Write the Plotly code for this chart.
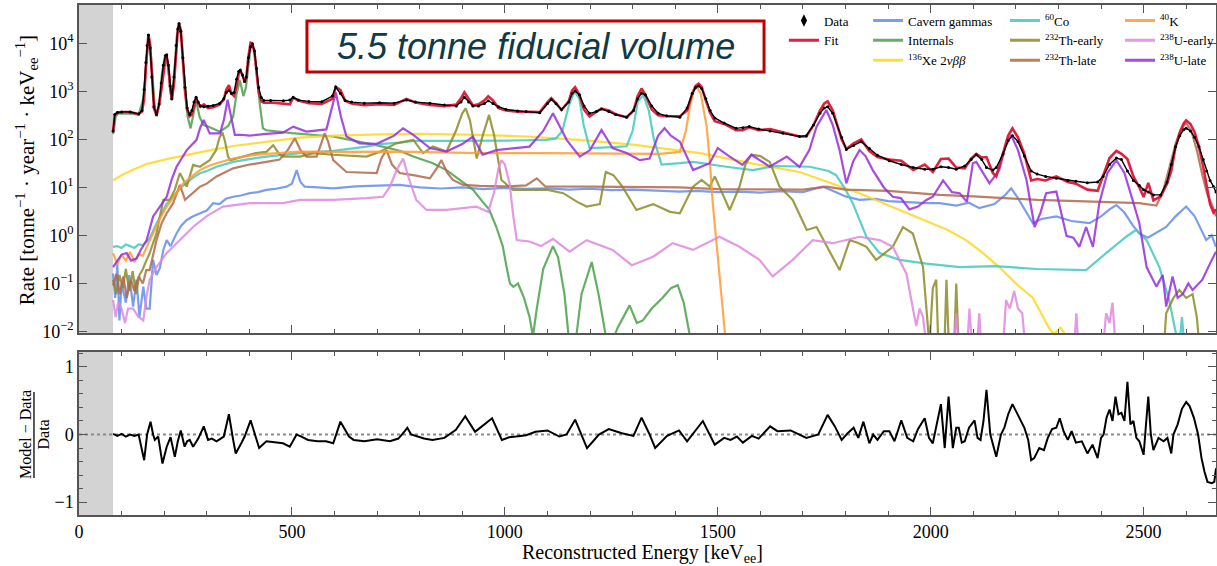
import plotly.graph_objects as go

# ---------------- spectrum: data and total fit ----------------
energy_data = [80, 84, 90, 100, 120, 140, 148, 153, 157, 160, 163, 167, 171, 176, 182, 188, 193, 198, 203, 206,
               210, 214, 218, 223, 228, 232, 235, 239, 244, 249, 254, 260, 265, 270, 275, 280, 285, 293, 303, 315,
               330, 340, 346, 352, 358, 364, 370, 375, 379, 384, 389, 393, 398, 403, 407, 412, 417, 422, 428, 434,
               450, 480, 495, 503, 515, 540, 570, 595, 603, 614, 625, 640, 670, 706, 740, 769, 790, 824, 858, 886,
               897, 905, 915, 925, 938, 952, 961, 972, 985, 1003, 1030, 1050, 1082, 1100, 1109, 1120, 1133, 1150, 1158, 1165,
               1175, 1186, 1199, 1215, 1227, 1244, 1260, 1286, 1302, 1312, 1321, 1330, 1345, 1360, 1380, 1411, 1428, 1440, 1448, 1455,
               1462, 1472, 1482, 1493, 1515, 1543, 1559, 1574, 1596, 1623, 1653, 1692, 1708, 1725, 1740, 1750, 1758, 1770, 1791, 1802,
               1819, 1837, 1856, 1875, 1903, 1931, 1959, 1986, 2005, 2024, 2042, 2060, 2080, 2095, 2107, 2120, 2131, 2146, 2154, 2170,
               2182, 2192, 2205, 2220, 2236, 2250, 2270, 2295, 2322, 2341, 2368, 2392, 2405, 2420, 2436, 2448, 2462, 2476, 2490, 2500,
               2511, 2523, 2540, 2555, 2565, 2575, 2585, 2594, 2600, 2610, 2620, 2630, 2640, 2648, 2656, 2664, 2670]
rate_data = [150, 330, 365, 375, 375, 340, 400, 1100, 4000, 9000, 1.5e4, 8000, 2000, 480, 330, 550, 1500, 3500, 5600, 5800,
             3500, 1300, 700, 2000, 9000, 2.0e4, 2.6e4, 1.8e4, 5000, 1200, 450, 330, 400, 600, 760, 600, 500, 480, 490, 510,
             560, 700, 950, 1050, 900, 950, 1800, 2600, 2800, 2200, 1600, 2000, 5000, 8500, 9800, 7000, 3000, 1200, 750, 650,
             650, 640, 660, 760, 660, 620, 610, 800, 1230, 900, 650, 600, 570, 580, 570, 660, 600, 570, 520, 500,
             600, 760, 600, 500, 500, 560, 640, 560, 480, 420, 390, 380, 360, 560, 680, 560, 420, 600, 900, 1020,
             850, 500, 350, 380, 430, 380, 330, 290, 400, 700, 920, 850, 500, 350, 310, 290, 450, 900, 1200, 1300,
             1150, 700, 400, 280, 220, 170, 175, 185, 165, 150, 135, 115, 120, 200, 350, 450, 480, 350, 110, 62,
             75, 90, 65, 47, 36, 30, 26, 24, 24, 27, 26, 24, 28, 38, 48, 38, 26, 23, 26, 50,
             95, 120, 90, 45, 22, 19, 17, 15.5, 14, 13.5, 12.5, 13, 17, 30, 41, 38, 22, 14, 11, 9,
             8, 7, 7, 13, 30, 70, 120, 160, 172, 150, 110, 70, 38, 22, 14, 10.5, 8]
rate_fit = [140, 320, 360, 372, 372, 338, 380, 700, 3200, 9500, 1.55e4, 9500, 2200, 440, 320, 520, 1000, 2300, 4800, 5400,
            3300, 1250, 680, 1400, 7500, 1.9e4, 2.6e4, 1.9e4, 4300, 1000, 410, 305, 330, 500, 720, 560, 480, 535, 450, 470,
            530, 680, 1100, 1350, 900, 800, 1300, 2300, 2700, 2200, 1550, 2000, 5500, 1.03e4, 1.0e4, 6500, 2500, 960, 620, 580,
            590, 560, 540, 740, 650, 570, 550, 700, 1250, 1070, 640, 560, 515, 540, 525, 700, 590, 525, 495, 535,
            720, 960, 690, 510, 540, 650, 790, 650, 450, 400, 380, 375, 370, 590, 720, 570, 410, 620, 1050, 1230,
            850, 420, 300, 380, 440, 400, 335, 290, 395, 800, 1150, 850, 420, 320, 305, 305, 400, 900, 1300, 1450,
            1250, 650, 360, 240, 210, 155, 155, 180, 155, 165, 140, 115, 115, 200, 400, 560, 620, 400, 100, 63,
            83, 100, 57, 43, 38, 36, 23, 30, 21, 39, 40, 26, 25, 40, 50, 42, 43, 20, 17, 53,
            120, 170, 110, 50, 14, 15, 14, 17, 13, 12, 9, 8.5, 17, 41, 58, 50, 39, 17, 10, 6.3,
            12.5, 5.4, 6.5, 12, 22, 70, 138, 215, 250, 210, 140, 70, 27, 10, 4.5, 3, 3.5]

# ---------------- fitted components ----------------
cavern_energy = [80, 85, 90, 95, 100, 110, 118, 127, 135, 142, 151, 158, 166, 174, 182, 190, 198, 206, 215, 229,
                 240, 253, 268, 284, 300, 315, 330, 345, 362, 380, 401, 420, 440, 460, 487, 500, 511, 520, 530, 560,
                 597, 650, 700, 753, 800, 850, 900, 950, 1000, 1050, 1100, 1150, 1200, 1250, 1300, 1350, 1411, 1450, 1500, 1550,
                 1600, 1650, 1700, 1730, 1747, 1770, 1800, 1833, 1870, 1900, 1950, 1990, 2021, 2060, 2090, 2114, 2150, 2175, 2189, 2205,
                 2225, 2240, 2260, 2295, 2330, 2373, 2400, 2420, 2436, 2455, 2475, 2490, 2510, 2553, 2575, 2600, 2620, 2647, 2660, 2670]
cavern_rate = [0.16, 0.05, 0.25, 0.017, 0.1, 0.04, 0.15, 0.033, 0.12, 0.02, 0.086, 0.03, 0.03, 0.31, 0.15, 0.21, 0.5, 0.8, 0.6, 1.1,
               1.6, 2.1, 2.5, 2.9, 3.3, 4.7, 4.5, 5.8, 6.4, 6.8, 7.6, 8.0, 8.9, 9.3, 10.4, 12, 23, 13, 10.4, 10,
               9.6, 10.5, 10.8, 11.3, 10, 9.5, 10, 9.2, 9.8, 9.4, 9.6, 9.0, 9.4, 8.8, 9.0, 8.5, 8.2, 8.5, 8.0, 8.2,
               7.8, 8.4, 8.0, 9.5, 10.4, 8.5, 6.5, 5.5, 5.8, 5.2, 4.9, 4.7, 4.7, 4.2, 4.8, 3.7, 4.5, 7, 9.6, 6,
               3, 1.8, 2.2, 2.5, 2.0, 1.8, 2.5, 3.5, 4.3, 3.0, 1.6, 1.1, 0.9, 1.5, 2.5, 4.0, 2.5, 0.8, 1.0, 0.58]

internals_energy = [80, 86, 92, 120, 140, 150, 155, 160, 163, 167, 172, 178, 182, 188, 195, 201, 205, 210, 215, 218,
                    224, 230, 235, 241, 248, 255, 262, 268, 275, 283, 292, 303, 331, 350, 362, 370, 378, 386, 392, 398,
                    403, 407, 412, 418, 425, 432, 440, 500, 597, 700, 753, 785, 831, 863, 910, 925, 948, 963, 980, 995,
                    1005, 1012, 1020, 1031, 1045, 1058, 1066, 1075, 1090, 1113, 1125, 1140, 1152, 1165, 1180, 1204, 1220, 1243, 1265, 1293,
                    1310, 1324, 1345, 1370, 1390, 1406, 1420, 1441, 1460]
internals_rate = [130, 300, 345, 345, 330, 650, 1700, 9000, 1.45e4, 9000, 2300, 480, 300, 520, 2500, 5100, 5600, 2800, 950, 650,
                  2700, 1.5e4, 2.5e4, 1.25e4, 1600, 300, 170, 300, 640, 300, 200, 185, 145, 190, 300, 900, 1700, 800, 1200, 3500,
                  8000, 9500, 7000, 2200, 500, 170, 155, 135, 115, 75, 58, 44, 32, 23, 11, 9, 5, 3.5, 1.5, 0.6,
                  0.2, 0.1, 0.085, 0.1, 0.05, 0.02, 0.008, 0.03, 0.2, 0.6, 0.35, 0.06, 0.005, 0.005, 0.06, 0.28, 0.06, 0.004, 0.012, 0.035,
                  0.015, 0.017, 0.03, 0.05, 0.08, 0.092, 0.04, 0.004, 0.001]

xe_energy = [80, 100, 120, 160, 206, 260, 300, 362, 450, 519, 600, 706, 800, 941, 1050, 1176, 1300, 1411, 1458, 1500,
             1598, 1692, 1760, 1833, 1927, 2000, 2040, 2083, 2120, 2161, 2200, 2240, 2265, 2280, 2290, 2305, 2315, 2325]
xe_rate = [14, 18, 22, 31, 39, 50, 58, 73, 92, 109, 120, 128, 130, 124, 115, 98, 78, 58, 52, 44,
           29.5, 21, 13, 7.6, 3.4, 1.8, 1.3, 0.8, 0.45, 0.22, 0.1, 0.05, 0.02, 0.011, 0.009, 0.012, 0.009, 0.005]

co60_energy = [80, 90, 100, 110, 120, 130, 140, 150, 160, 166, 178, 190, 205, 221, 237, 253, 268, 284, 300, 323,
               362, 400, 440, 519, 597, 675, 706, 753, 785, 860, 941, 1020, 1098, 1120, 1135, 1150, 1164, 1175, 1185, 1199,
               1253, 1286, 1300, 1312, 1325, 1338, 1350, 1368, 1411, 1442, 1520, 1582, 1637, 1716, 1760, 1778, 1800, 1817, 1849, 1880,
               1927, 1990, 2068, 2150, 2250, 2365, 2412, 2459, 2482, 2507, 2537, 2560, 2575, 2584, 2590, 2597]
co60_rate = [0.58, 0.6, 0.55, 0.65, 0.6, 0.55, 0.65, 0.63, 0.75, 0.87, 1.5, 2.5, 4.5, 6.4, 9.5, 12.6, 16, 19.7, 22, 27,
             34, 39, 44, 52, 58, 71, 80, 86, 93, 93, 93, 95, 98, 105, 150, 500, 1000, 700, 200, 66,
             69, 72, 150, 600, 850, 400, 100, 30, 32, 34, 27, 23, 28, 27, 22, 18, 9, 4.7, 0.94, 0.43,
             0.31, 0.26, 0.22, 0.23, 0.2, 0.19, 0.43, 0.94, 1.3, 0.8, 0.22, 0.045, 0.01, 0.005, 0.02, 0.004]

th_early_energy = [80, 88, 95, 103, 110, 118, 126, 134, 142, 150, 158, 166, 174, 182, 190, 198, 213, 225, 237, 253,
                   268, 284, 307, 322, 330, 337, 343, 350, 355, 380, 415, 440, 456, 470, 479, 519, 550, 597, 675, 706,
                   745, 785, 808, 831, 863, 885, 900, 908, 918, 934, 948, 963, 975, 992, 1019, 1058, 1098, 1137, 1170, 1192,
                   1223, 1237, 1255, 1276, 1309, 1348, 1388, 1411, 1425, 1442, 1462, 1481, 1493, 1510, 1528, 1551, 1565, 1579, 1600, 1622,
                   1645, 1676, 1709, 1732, 1760, 1786, 1810, 1830, 1849, 1872, 1911, 1935, 1958, 1982, 1990, 1997, 2005, 2013, 2018, None,
                   2032, 2037, 2043, None, 2055, 2060, 2066, None, 2545, 2553, 2570, 2584, 2600, 2615, 2625, 2633]
th_early_rate = [0.12, 0.06, 0.15, 0.08, 0.2, 0.07, 0.18, 0.06, 0.15, 0.2, 0.3, 0.43, 0.7, 1.1, 2.5, 5.5, 5.5, 9, 20, 10.4,
                 29.5, 27, 37, 60, 110, 140, 90, 44, 37, 42, 52, 55, 76, 50, 44, 44, 52, 48, 44, 55,
                 83, 98, 52, 71, 56, 150, 350, 445, 250, 40, 120, 324, 120, 14.3, 8.9, 8.9, 9, 7.6, 5, 4,
                 4.5, 21, 18, 10.4, 3.4, 4.5, 3.1, 2.9, 5, 10.4, 14.3, 10.4, 17, 8, 3.4, 10.4, 30, 48, 45, 34,
                 10.4, 5.5, 1.3, 1.5, 0.5, 0.19, 0.8, 0.7, 0.58, 0.31, 0.58, 1.5, 1.1, 0.22, 0.03, 0.005, 0.08, 0.12, 0.005, None,
                 0.004, 0.12, 0.004, None, 0.005, 0.1, 0.004, None, 0.002, 0.024, 0.05, 0.073, 0.05, 0.06, 0.02, 0.003]

th_late_energy = [80, 88, 96, 104, 112, 122, 130, 140, 150, 158, 166, 174, 182, 194, 206, 221, 230, 237, 249, 262,
                  284, 300, 323, 362, 400, 440, 471, 490, 507, 520, 534, 558, 570, 577, 585, 597, 628, 675, 699, 710,
                  722, 735, 753, 785, 824, 840, 851, 865, 878, 902, 941, 1000, 1050, 1075, 1095, 1200, 1300, 1411, 1500, 1600,
                  1700, 1755, 1800, 1900, 2021, 2100, 2251, 2400, 2490, 2530, 2545, 2560, 2575, 2587, 2600, 2612, 2625, 2638, 2650, 2662,
                  2670]
th_late_rate = [0.09, 0.16, 0.06, 0.14, 0.05, 0.12, 0.07, 0.14, 0.1, 0.19, 0.19, 0.4, 0.8, 1.8, 2.9, 4.7, 8, 11.3, 5.5, 7,
                10.4, 12, 17, 25, 30, 34, 38, 60, 106, 60, 44, 44, 90, 134, 90, 37, 21, 20, 20, 40,
                60, 30, 20, 18, 15.5, 25, 37, 20, 14.3, 11.3, 10.8, 10.5, 11, 15.5, 10.5, 10.4, 10.2, 10, 9.2, 9,
                9, 10.4, 9, 8.5, 7, 6.5, 5.5, 5, 4.7, 4.2, 8, 25, 80, 160, 220, 150, 60, 18, 7, 4,
                2.5]

k40_energy = [80, 90, 100, 110, 120, 130, 140, 150, 160, 174, 190, 206, 225, 245, 265, 284, 300, 323, 362, 400,
              440, 519, 600, 700, 753, 850, 941, 1100, 1250, 1364, 1411, 1425, 1435, 1443, 1450, 1460, 1474, 1482, 1488, 1496,
              1504, 1510, 1516, 1522]
k40_rate = [0.43, 0.25, 0.4, 0.3, 0.45, 0.28, 0.4, 0.38, 0.6, 1.1, 2.2, 4, 7, 12.2, 17, 23, 27, 32, 40, 46,
            50, 56, 55, 56, 56, 54, 52, 52, 51, 50, 55, 150, 500, 1000, 1260, 900, 185, 30, 5, 0.8,
            0.14, 0.04, 0.012, 0.003]

u_early_energy = [80, 86, 92, 100, 108, 115, 127, 140, 151, 158, 166, 182, 206, 237, 268, 299, 338, 401, 479, 519,
                  597, 675, 714, 730, 745, 761, 775, 792, 816, 863, 902, 933, 961, 975, 985, 992, 1000, 1011, 1020, 1028,
                  1058, 1085, 1113, 1152, 1192, 1253, 1298, 1348, 1394, 1442, 1504, 1551, 1598, 1629, 1676, 1723, 1770, 1833, 1880, 1911,
                  1943, 1955, 1966, 1974, 1982, 1990, None, 2055, 2060, 2066, None, 2086, 2091, 2097, None, 2109, 2114, 2119, None, 2170,
                  2177, 2186, 2196, 2205, 2215, 2222, None, 2337, 2342, 2347, None, 2405, 2412, 2420, 2427, 2434]
u_early_rate = [0.045, 0.02, 0.04, 0.03, 0.015, 0.03, 0.03, 0.02, 0.017, 0.05, 0.12, 0.22, 0.43, 0.8, 1.5, 2.5, 4, 4.7, 4.7, 5.5,
                5.5, 6, 6.4, 10.4, 22, 40, 15, 5.5, 3.4, 3.4, 3.7, 4, 3.1, 8, 25, 37, 30, 12.2, 2.5, 0.8,
                0.75, 0.6, 0.85, 0.46, 0.8, 0.5, 0.24, 0.36, 0.69, 0.5, 0.94, 0.58, 0.31, 0.14, 0.31, 0.8, 0.69, 0.94, 0.8, 0.58,
                0.16, 0.04, 0.013, 0.03, 0.02, 0.005, None, 0.005, 0.024, 0.005, None, 0.005, 0.03, 0.005, None, 0.005, 0.024, 0.005, None, 0.005,
                0.045, 0.03, 0.07, 0.03, 0.024, 0.005, None, 0.005, 0.024, 0.005, None, 0.005, 0.024, 0.015, 0.04, 0.005]

u_late_energy = [80, 90, 100, 112, 122, 135, 145, 159, 174, 190, 206, 218, 229, 241, 253, 276, 285, 293, 300, 307,
                 331, 340, 349, 357, 366, 380, 401, 440, 479, 503, 534, 581, 592, 603, 615, 628, 659, 699, 740, 761,
                 785, 824, 863, 900, 925, 948, 980, 1019, 1058, 1090, 1113, 1130, 1145, 1176, 1200, 1227, 1253, 1286, 1317, 1340,
                 1360, 1375, 1390, 1411, 1425, 1442, 1481, 1500, 1528, 1558, 1579, 1622, 1662, 1692, 1715, 1732, 1755, 1770, 1786, 1802,
                 1818, 1833, 1847, 1864, 1890, 1911, 1930, 1950, 1970, 1990, 2005, 2029, 2050, 2068, 2085, 2099, 2107, 2120, 2138, 2161,
                 2175, 2189, 2205, 2225, 2244, 2258, 2271, 2295, 2319, 2335, 2349, 2365, 2381, 2396, 2415, 2436, 2455, 2474, 2490, 2507,
                 2530, 2545, 2553, 2568, 2580, 2592, 2605, 2615, 2638, 2655, 2670]
u_late_rate = [0.22, 0.3, 0.4, 0.43, 0.3, 0.33, 0.5, 0.8, 2.5, 4, 6.4, 15, 27, 40, 60, 98, 180, 255, 180, 134,
               134, 250, 670, 300, 124, 125, 120, 130, 138, 185, 146, 162, 400, 950, 300, 115, 83, 81, 120, 171,
               124, 66, 56, 80, 114, 48, 60, 66, 71, 150, 350, 180, 98, 44, 60, 158, 66, 52, 37, 40,
               120, 171, 120, 90, 50, 23, 32, 66, 44, 29.5, 48, 27, 44, 27, 60, 185, 410, 200, 60, 12.2,
               35, 60, 45, 23, 10, 6.4, 6, 3.5, 4, 5.5, 6.4, 14, 8, 7.6, 5, 32, 34, 22, 12.2, 23,
               70, 124, 60, 14.3, 1.5, 3, 7.6, 8.2, 0.98, 0.9, 0.58, 1.5, 0.58, 4.7, 20, 37, 20, 5.5, 1.8, 0.22,
               0.086, 0.15, 0.033, 0.14, 0.05, 0.06, 0.1, 0.073, 0.12, 0.25, 0.46]

# ---------------- residual (Model - Data)/Data ----------------
res_energy = [80, 90, 100, 110, 120, 130, 140, 146, 153, 160, 168, 174, 178, 186, 196, 206, 215, 225, 232, 239,
              248, 254, 260, 268, 280, 293, 303, 312, 323, 340, 352, 362, 368, 381, 389, 403, 414, 423, 440, 460,
              479, 495, 511, 522, 538, 560, 580, 597, 614, 634, 645, 670, 700, 730, 750, 765, 771, 780, 790, 810,
              830, 858, 885, 907, 922, 930, 938, 970, 993, 1010, 1026, 1050, 1072, 1100, 1128, 1145, 1165, 1180, 1193, 1221,
              1244, 1275, 1302, 1321, 1340, 1353, 1381, 1409, 1428, 1465, 1493, 1515, 1530, 1545, 1559, 1580, 1596, 1623, 1640, 1671,
              1690, 1708, 1736, 1758, 1775, 1791, 1805, 1819, 1830, 1842, 1856, 1865, 1875, 1890, 1903, 1915, 1931, 1945, 1959, 1970,
              1986, 1996, 2005, 2014, 2024, 2033, 2042, 2052, 2060, 2066, 2073, 2080, 2090, 2103, 2110, 2117, 2124, 2131, 2140, 2154,
              2165, 2173, 2182, 2192, 2200, 2211, 2220, 2229, 2236, 2243, 2255, 2266, 2275, 2285, 2295, 2303, 2312, 2322, 2331, 2341,
              2355, 2368, 2380, 2392, 2400, 2406, 2413, 2420, 2427, 2434, 2441, 2448, 2455, 2462, 2469, 2476, 2483, 2490, 2500, 2505,
              2511, 2517, 2523, 2535, 2547, 2556, 2565, 2570, 2580, 2590, 2600, 2608, 2618, 2628, 2636, 2643, 2650, 2660, 2666, 2670]
res_value = [0.01, -0.02, 0.01, -0.03, 0.0, -0.02, 0.0, -0.2, -0.38, 0.0, 0.19, 0.0, -0.08, -0.03, -0.43, -0.18, -0.04, -0.33, -0.1, 0.06,
             -0.18, -0.1, -0.08, -0.18, -0.06, 0.12, -0.08, -0.06, -0.1, -0.03, 0.3, -0.08, -0.28, -0.13, -0.03, 0.21, 0.0, -0.2, -0.1, -0.12,
             -0.13, -0.18, 0.0, -0.03, -0.08, -0.1, -0.1, -0.13, 0.19, -0.03, -0.08, -0.1, -0.07, -0.1, -0.06, 0.05, 0.1, 0.0, -0.02, -0.06,
             -0.08, -0.05, 0.07, 0.27, 0.12, 0.04, 0.08, 0.24, -0.08, -0.04, -0.03, -0.01, 0.04, 0.06, -0.03, 0.0, 0.22, 0.0, -0.2, 0.0,
             0.08, 0.02, -0.02, 0.25, 0.0, -0.2, -0.02, 0.06, -0.1, 0.2, -0.15, -0.05, -0.08, -0.03, -0.12, -0.02, -0.06, 0.12, 0.05, 0.06,
             0.0, -0.05, 0.0, 0.29, 0.12, -0.08, 0.02, 0.1, -0.05, 0.19, -0.13, 0.0, -0.08, 0.05, 0.05, -0.1, 0.21, -0.05, -0.1, 0.08,
             0.24, -0.05, -0.13, 0.15, 0.45, -0.2, 0.56, -0.2, 0.1, 0.1, -0.12, -0.1, 0.1, 0.21, -0.05, -0.08, 0.2, 0.66, 0.0, -0.33,
             0.0, 0.1, 0.3, 0.45, 0.35, 0.2, 0.1, -0.08, -0.38, -0.35, -0.2, -0.23, -0.05, 0.08, 0.1, 0.24, 0.05, -0.08, 0.05, -0.12,
             -0.1, -0.28, -0.15, -0.35, -0.05, 0.0, 0.25, 0.37, 0.2, 0.56, 0.3, 0.32, 0.2, 0.78, 0.15, 0.2, -0.05, -0.1, -0.3, 0.1,
             0.56, 0.0, -0.23, -0.05, -0.1, -0.05, -0.28, 0.0, 0.15, 0.38, 0.48, 0.42, 0.25, 0.0, -0.35, -0.55, -0.7, -0.72, -0.7, -0.5]

# ---------------- axis ticks ----------------
rate_tickvals = [1e-2, 1e-1, 1e0, 1e1, 1e2, 1e3, 1e4]
rate_ticktext = ["10<sup>−2</sup>", "10<sup>−1</sup>", "10<sup>0</sup>", "10<sup>1</sup>",
                 "10<sup>2</sup>", "10<sup>3</sup>", "10<sup>4</sup>"]
analysis_threshold = 80  # keV, shaded region below it

SERIF = "Liberation Serif"

components = [
    ("Cavern gammas", cavern_energy, cavern_rate, "rgba(100,140,235,0.85)", "legend2"),
    ("Internals", internals_energy, internals_rate, "rgba(75,160,75,0.85)", "legend2"),
    ("<sup>136</sup>Xe 2<i>νββ</i>", xe_energy, xe_rate, "rgba(255,215,30,0.85)", "legend2"),
    ("<sup>60</sup>Co", co60_energy, co60_rate, "rgba(65,200,190,0.85)", "legend3"),
    ("<sup>232</sup>Th-early", th_early_energy, th_early_rate, "rgba(140,140,40,0.85)", "legend3"),
    ("<sup>232</sup>Th-late", th_late_energy, th_late_rate, "rgba(175,105,75,0.85)", "legend3"),
    ("<sup>40</sup>K", k40_energy, k40_rate, "rgba(255,155,50,0.85)", "legend4"),
    ("<sup>238</sup>U-early", u_early_energy, u_early_rate, "rgba(222,135,222,0.85)", "legend4"),
    ("<sup>238</sup>U-late", u_late_energy, u_late_rate, "rgba(150,45,220,0.85)", "legend4"),
]

fig = go.Figure()

# component spectra (drawn first, behind the fit and data)
for name, ex, ry, color, _ in components:
    fig.add_trace(go.Scatter(x=ex, y=ry, mode="lines", line=dict(color=color, width=2.2),
                             showlegend=False, xaxis="x", yaxis="y", hoverinfo="skip"))

# total fit and measured data
fig.add_trace(go.Scatter(x=energy_data, y=rate_fit, mode="lines",
                         line=dict(color="rgba(222,20,55,0.95)", width=2.6),
                         showlegend=False, xaxis="x", yaxis="y"))
fig.add_trace(go.Scatter(x=energy_data, y=rate_data, mode="lines+markers",
                         line=dict(color="black", width=1.4),
                         marker=dict(color="black", size=3),
                         showlegend=False, xaxis="x", yaxis="y"))

# residual panel
fig.add_trace(go.Scatter(x=res_energy, y=res_value, mode="lines",
                         line=dict(color="black", width=2),
                         showlegend=False, xaxis="x2", yaxis="y2"))

# legend entries, four columns
fig.add_trace(go.Scatter(x=[None], y=[None], mode="markers", name="Data",
                         marker=dict(symbol="diamond-tall", size=9, color="black"),
                         legend="legend", xaxis="x", yaxis="y"))
fig.add_trace(go.Scatter(x=[None], y=[None], mode="lines", name="Fit",
                         line=dict(color="rgba(222,20,55,0.95)", width=3),
                         legend="legend", xaxis="x", yaxis="y"))
for name, _, _, color, leg in components:
    fig.add_trace(go.Scatter(x=[None], y=[None], mode="lines", name=name,
                             line=dict(color=color, width=3),
                             legend=leg, xaxis="x", yaxis="y"))

axis_style = dict(showline=True, linecolor="#555555", linewidth=1.5, mirror="allticks",
                  ticks="inside", ticklen=8, tickwidth=1.2, tickcolor="#555555",
                  showgrid=False, zeroline=False,
                  tickfont=dict(family=SERIF, size=18, color="black"))
x_minor = dict(dtick=100, tick0=0, ticks="inside", ticklen=4, tickcolor="#555555", tickwidth=1)

legend_style = dict(font=dict(family=SERIF, size=13, color="black"), bgcolor="rgba(0,0,0,0)",
                    borderwidth=0, xanchor="left", yanchor="top", tracegroupgap=0, itemwidth=30)

fig.update_layout(
    width=1217, height=566,
    font=dict(family=SERIF, color="black"),
    margin=dict(l=79, r=1, t=5, b=51, autoexpand=False),
    paper_bgcolor="white", plot_bgcolor="white",
    xaxis=dict(domain=[0, 1], anchor="y", range=[0, 2670], dtick=500, tick0=0,
               showticklabels=False, minor=x_minor, **axis_style),
    yaxis=dict(domain=[0.357, 1], anchor="x", type="log", range=[-2.03, 4.80],
               tickmode="array", tickvals=rate_tickvals, ticktext=rate_ticktext, **axis_style),
    xaxis2=dict(domain=[0, 1], anchor="y2", range=[0, 2670], dtick=500, tick0=0,
                minor=x_minor, **axis_style),
    yaxis2=dict(domain=[0, 0.3196], anchor="x2", range=[-1.19, 1.22], dtick=1, tick0=0,
                minor=dict(dtick=0.2, tick0=0, ticks="inside", ticklen=4, tickcolor="#555555", tickwidth=1),
                **axis_style),
    legend=dict(x=0.6200, y=0.999, **legend_style),
    legend2=dict(x=0.694, y=0.999, **legend_style),
    legend3=dict(x=0.8144, y=0.999, **legend_style),
    legend4=dict(x=0.9156, y=0.999, **legend_style),
    showlegend=True,
)

# shaded region below the analysis threshold, zero reference line
fig.add_shape(type="rect", xref="x", yref="y domain", x0=0, x1=analysis_threshold, y0=0, y1=1,
              fillcolor="#d3d3d3", line=dict(width=0), layer="below")
fig.add_shape(type="rect", xref="x2", yref="y2 domain", x0=0, x1=analysis_threshold, y0=0, y1=1,
              fillcolor="#d3d3d3", line=dict(width=0), layer="below")
fig.add_shape(type="line", xref="x2 domain", yref="y2", x0=0, x1=1, y0=0, y1=0,
              line=dict(color="#8a8a8a", width=2, dash="dot"), layer="below")

# boxed headline
fig.add_shape(type="rect", xref="paper", yref="paper", x0=0.2005, x1=0.6025, y0=0.8686, y1=0.9686,
              fillcolor="white", line=dict(color="#c00000", width=3), layer="above")
fig.add_annotation(xref="paper", yref="paper", x=0.4015, y=0.9186, showarrow=False,
                   text="<i>5.5 tonne fiducial volume</i>",
                   font=dict(family="Liberation Sans", size=36, color="#0f3a48"),
                   xanchor="center", yanchor="middle")

# axis titles
fig.add_annotation(xref="paper", yref="paper", x=-0.0465, y=0.676, showarrow=False, textangle=-90,
                   text="Rate [tonne<sup>−1</sup> · year<sup>−1</sup> · keV<sub>ee</sub><sup>−1</sup>]",
                   font=dict(family=SERIF, size=21, color="black"), xanchor="center", yanchor="middle")
fig.add_annotation(xref="paper", yref="paper", x=-0.0466, y=0.1569, showarrow=False, textangle=-90,
                   text="Model − Data", font=dict(family=SERIF, size=16, color="black"),
                   xanchor="center", yanchor="middle")
fig.add_annotation(xref="paper", yref="paper", x=-0.0312, y=0.1569, showarrow=False, textangle=-90,
                   text="Data", font=dict(family=SERIF, size=16, color="black"),
                   xanchor="center", yanchor="middle")
fig.add_shape(type="line", xref="paper", yref="paper", x0=-0.0396, x1=-0.0396, y0=0.0725, y1=0.2412,
              line=dict(color="black", width=1.3))
fig.add_annotation(xref="paper", yref="paper", x=0.496, y=-0.076, showarrow=False,
                   text="Reconstructed Energy [keV<sub>ee</sub>]",
                   font=dict(family=SERIF, size=20, color="black"), xanchor="center", yanchor="middle")

fig.write_html("out.html")
